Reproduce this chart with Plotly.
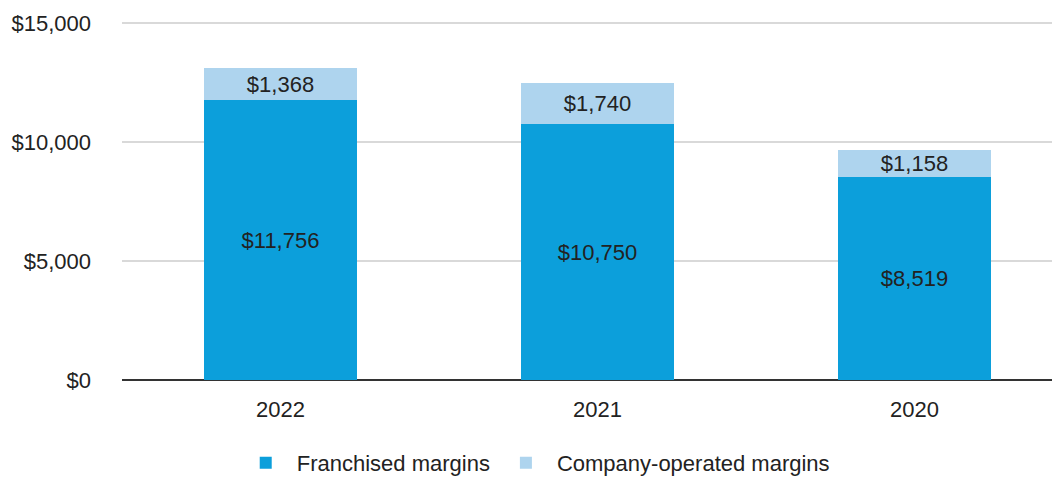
import plotly.graph_objects as go

years = ["2022", "2021", "2020"]
franchised = [11756, 10750, 8519]
company = [1368, 1740, 1158]
tick_vals = [0, 5000, 10000, 15000]
tick_text = ["$0", "$5,000", "$10,000", "$15,000"]

FONT = "Liberation Sans, Arial, sans-serif"
TXT = "#222222"

fig = go.Figure()
fig.add_trace(go.Bar(
    x=years, y=franchised, name="Franchised margins",
    marker=dict(color="#0c9fdb", line=dict(width=0)),
    text=[f"${v:,}" for v in franchised], textposition="inside",
    insidetextanchor="middle", constraintext="none",
    textfont=dict(size=22, color=TXT, family=FONT),
    width=0.483, hoverinfo="skip",
))
fig.add_trace(go.Bar(
    x=years, y=company, name="Company-operated margins",
    marker=dict(color="#aed4ee", line=dict(width=0)),
    text=[f"${v:,}" for v in company], textposition="inside",
    insidetextanchor="middle", constraintext="none",
    textfont=dict(size=22, color=TXT, family=FONT),
    width=0.483, hoverinfo="skip",
))

# page body has an 8px default margin, so the figure is sized/offset to compensate
fig.update_layout(
    barmode="stack",
    width=1052, height=470,
    margin=dict(l=114, r=0, t=14, b=98, autoexpand=False),
    paper_bgcolor="white", plot_bgcolor="white",
    font=dict(family=FONT, size=22, color=TXT),
    xaxis=dict(range=[-0.5, 2.459], showgrid=False, showline=False,
               ticks="", automargin=False, ticklabelstandoff=14,
               tickfont=dict(size=22, color=TXT)),
    yaxis=dict(range=[0, 15050], tickvals=tick_vals, ticktext=tick_text,
               showgrid=True, gridcolor="#d9d9d9", gridwidth=2,
               zeroline=True, zerolinecolor="#333333", zerolinewidth=2,
               ticks="", ticklabelstandoff=30, automargin=False,
               tickfont=dict(size=22, color=TXT)),
    legend=dict(orientation="h", x=0.44, xanchor="center", y=-0.232, yanchor="middle",
                font=dict(size=22, color=TXT), traceorder="normal",
                itemwidth=52),
    showlegend=True,
)

fig.write_html("out.html")
